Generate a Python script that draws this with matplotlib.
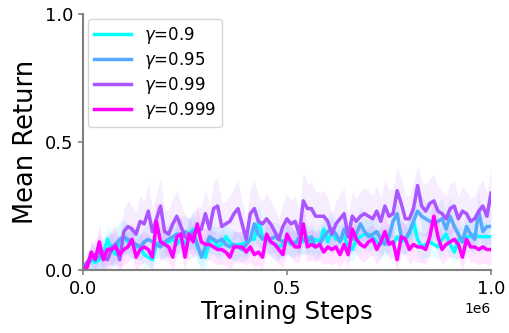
import matplotlib
matplotlib.use('Agg')
import matplotlib.pyplot as plt
import numpy as np

# data -----------------------------------------------------------------------------------------------------------------

steps = np.linspace(0, 1e6, 101)

gammaLabels = [r'$\gamma$=0.9', r'$\gamma$=0.95', r'$\gamma$=0.99', r'$\gamma$=0.999']

meanGamma09 = [0.01, 0.02, 0.04, 0.03, 0.04, 0.06, 0.12, 0.08, 0.06, 0.12,
               0.13, 0.11, 0.10, 0.09, 0.09, 0.06, 0.05, 0.04, 0.10, 0.11,
               0.10, 0.11, 0.12, 0.10, 0.12, 0.10, 0.14, 0.16, 0.09, 0.06,
               0.05, 0.11, 0.12, 0.09, 0.10, 0.13, 0.11, 0.09, 0.10, 0.10,
               0.11, 0.12, 0.12, 0.19, 0.13, 0.12, 0.11, 0.10, 0.09, 0.10,
               0.12, 0.10, 0.11, 0.12, 0.11, 0.13, 0.10, 0.12, 0.11, 0.16,
               0.11, 0.15, 0.12, 0.12, 0.13, 0.09, 0.08, 0.12, 0.13, 0.14,
               0.14, 0.13, 0.11, 0.10, 0.12, 0.11, 0.10, 0.13, 0.11, 0.12,
               0.14, 0.19, 0.12, 0.09, 0.10, 0.11, 0.10, 0.09, 0.12, 0.14,
               0.10, 0.07, 0.12, 0.11, 0.13, 0.13, 0.14, 0.13, 0.13, 0.13,
               0.13]

meanGamma095 = [0.01, 0.02, 0.04, 0.05, 0.05, 0.07, 0.08, 0.09, 0.10, 0.12,
                0.13, 0.12, 0.11, 0.10, 0.09, 0.11, 0.12, 0.11, 0.10, 0.09,
                0.11, 0.12, 0.13, 0.14, 0.14, 0.15, 0.14, 0.15, 0.10, 0.05,
                0.09, 0.13, 0.12, 0.11, 0.12, 0.10, 0.09, 0.10, 0.09, 0.08,
                0.10, 0.12, 0.18, 0.14, 0.12, 0.13, 0.12, 0.13, 0.12, 0.11,
                0.12, 0.11, 0.10, 0.13, 0.12, 0.11, 0.13, 0.09, 0.10, 0.13,
                0.15, 0.16, 0.14, 0.11, 0.16, 0.13, 0.12, 0.14, 0.18, 0.15,
                0.13, 0.14, 0.15, 0.12, 0.10, 0.13, 0.19, 0.22, 0.13, 0.12,
                0.15, 0.19, 0.23, 0.21, 0.20, 0.19, 0.18, 0.19, 0.20, 0.16,
                0.21, 0.17, 0.14, 0.11, 0.17, 0.14, 0.12, 0.23, 0.15, 0.17,
                0.17]

meanGamma099 = [0.01, 0.03, 0.05, 0.06, 0.07, 0.05, 0.04, 0.08, 0.10, 0.04,
                0.15, 0.17, 0.16, 0.14, 0.19, 0.18, 0.23, 0.15, 0.20, 0.25,
                0.15, 0.14, 0.18, 0.21, 0.17, 0.13, 0.12, 0.14, 0.15, 0.16,
                0.22, 0.16, 0.24, 0.25, 0.17, 0.18, 0.19, 0.22, 0.24, 0.18,
                0.12, 0.22, 0.24, 0.19, 0.18, 0.20, 0.18, 0.15, 0.12, 0.17,
                0.20, 0.18, 0.19, 0.14, 0.27, 0.24, 0.24, 0.21, 0.21, 0.21,
                0.19, 0.14, 0.18, 0.20, 0.22, 0.13, 0.21, 0.19, 0.21, 0.22,
                0.21, 0.20, 0.23, 0.19, 0.25, 0.21, 0.22, 0.31, 0.26, 0.20,
                0.20, 0.24, 0.33, 0.25, 0.23, 0.26, 0.27, 0.23, 0.22, 0.20,
                0.24, 0.25, 0.20, 0.23, 0.22, 0.19, 0.20, 0.23, 0.25, 0.21,
                0.30]

meanGamma0999 = [0.01, 0.01, 0.07, 0.04, 0.11, 0.04, 0.08, 0.08, 0.09, 0.06,
                 0.08, 0.09, 0.12, 0.05, 0.08, 0.09, 0.08, 0.05, 0.19, 0.11,
                 0.10, 0.09, 0.05, 0.13, 0.14, 0.05, 0.14, 0.11, 0.18, 0.11,
                 0.10, 0.10, 0.09, 0.08, 0.08, 0.07, 0.05, 0.09, 0.09, 0.09,
                 0.07, 0.09, 0.06, 0.07, 0.05, 0.14, 0.11, 0.10, 0.08, 0.06,
                 0.14, 0.11, 0.09, 0.09, 0.18, 0.09, 0.10, 0.09, 0.10, 0.07,
                 0.09, 0.08, 0.09, 0.06, 0.10, 0.06, 0.16, 0.12, 0.10, 0.09,
                 0.11, 0.12, 0.08, 0.11, 0.15, 0.10, 0.11, 0.04, 0.13, 0.12,
                 0.08, 0.10, 0.09, 0.09, 0.08, 0.13, 0.21, 0.13, 0.08, 0.10,
                 0.11, 0.12, 0.10, 0.05, 0.12, 0.09, 0.09, 0.08, 0.09, 0.08,
                 0.08]

# spread of each run
stdGamma09 = [0.01, 0.02, 0.04, 0.04, 0.05, 0.05, 0.06, 0.06, 0.05, 0.06,
              0.06, 0.05, 0.06, 0.05, 0.05, 0.05, 0.04, 0.04, 0.05, 0.06,
              0.05, 0.06, 0.05, 0.06, 0.05, 0.05, 0.06, 0.07, 0.06, 0.05,
              0.05, 0.06, 0.05, 0.05, 0.06, 0.05, 0.05, 0.06, 0.05, 0.05,
              0.06, 0.05, 0.06, 0.07, 0.06, 0.05, 0.05, 0.06, 0.05, 0.05,
              0.06, 0.05, 0.05, 0.06, 0.05, 0.06, 0.05, 0.05, 0.06, 0.07,
              0.05, 0.06, 0.05, 0.06, 0.05, 0.05, 0.05, 0.06, 0.06, 0.05,
              0.06, 0.05, 0.05, 0.06, 0.05, 0.05, 0.06, 0.06, 0.05, 0.05,
              0.06, 0.07, 0.06, 0.05, 0.05, 0.06, 0.05, 0.05, 0.06, 0.06,
              0.05, 0.05, 0.06, 0.05, 0.06, 0.06, 0.05, 0.06, 0.06, 0.05,
              0.05]

stdGamma095 = [0.01, 0.02, 0.04, 0.05, 0.05, 0.06, 0.06, 0.07, 0.06, 0.07,
               0.07, 0.06, 0.06, 0.06, 0.05, 0.06, 0.06, 0.06, 0.05, 0.05,
               0.06, 0.06, 0.07, 0.07, 0.06, 0.07, 0.06, 0.07, 0.06, 0.05,
               0.05, 0.06, 0.06, 0.06, 0.06, 0.05, 0.05, 0.06, 0.05, 0.05,
               0.06, 0.06, 0.07, 0.06, 0.06, 0.06, 0.06, 0.06, 0.06, 0.05,
               0.06, 0.06, 0.05, 0.06, 0.06, 0.05, 0.06, 0.05, 0.05, 0.06,
               0.07, 0.07, 0.06, 0.06, 0.07, 0.06, 0.06, 0.06, 0.07, 0.07,
               0.06, 0.06, 0.07, 0.06, 0.05, 0.06, 0.07, 0.08, 0.06, 0.06,
               0.07, 0.07, 0.08, 0.08, 0.07, 0.07, 0.07, 0.07, 0.08, 0.07,
               0.08, 0.07, 0.06, 0.06, 0.07, 0.06, 0.06, 0.08, 0.07, 0.07,
               0.07]

stdGamma099 = [0.01, 0.03, 0.05, 0.06, 0.07, 0.06, 0.06, 0.07, 0.08, 0.06,
               0.09, 0.10, 0.09, 0.09, 0.10, 0.09, 0.11, 0.09, 0.10, 0.11,
               0.09, 0.09, 0.10, 0.10, 0.09, 0.08, 0.08, 0.09, 0.09, 0.09,
               0.10, 0.09, 0.10, 0.11, 0.09, 0.09, 0.10, 0.10, 0.11, 0.09,
               0.08, 0.10, 0.11, 0.10, 0.09, 0.10, 0.09, 0.09, 0.08, 0.09,
               0.10, 0.09, 0.10, 0.09, 0.11, 0.10, 0.10, 0.10, 0.09, 0.10,
               0.09, 0.08, 0.09, 0.10, 0.10, 0.08, 0.10, 0.09, 0.10, 0.10,
               0.10, 0.09, 0.10, 0.09, 0.11, 0.10, 0.10, 0.09, 0.10, 0.09,
               0.09, 0.10, 0.08, 0.10, 0.10, 0.10, 0.10, 0.10, 0.09, 0.09,
               0.10, 0.10, 0.09, 0.10, 0.09, 0.09, 0.09, 0.10, 0.10, 0.09,
               0.10]

stdGamma0999 = [0.01, 0.01, 0.05, 0.04, 0.07, 0.05, 0.06, 0.06, 0.06, 0.05,
                0.06, 0.06, 0.07, 0.05, 0.06, 0.06, 0.06, 0.05, 0.08, 0.07,
                0.06, 0.06, 0.05, 0.07, 0.07, 0.05, 0.07, 0.06, 0.08, 0.06,
                0.06, 0.06, 0.06, 0.06, 0.06, 0.05, 0.05, 0.06, 0.06, 0.06,
                0.05, 0.06, 0.05, 0.05, 0.05, 0.07, 0.06, 0.06, 0.06, 0.05,
                0.07, 0.06, 0.06, 0.06, 0.08, 0.06, 0.06, 0.06, 0.06, 0.05,
                0.06, 0.06, 0.06, 0.05, 0.06, 0.05, 0.07, 0.06, 0.06, 0.06,
                0.06, 0.06, 0.06, 0.06, 0.07, 0.06, 0.06, 0.04, 0.07, 0.06,
                0.06, 0.06, 0.06, 0.06, 0.06, 0.07, 0.08, 0.07, 0.06, 0.06,
                0.06, 0.07, 0.06, 0.05, 0.06, 0.06, 0.06, 0.06, 0.06, 0.06,
                0.06]

means = [meanGamma09, meanGamma095, meanGamma099, meanGamma0999]
stds = [stdGamma09, stdGamma095, stdGamma099, stdGamma0999]

# figure ---------------------------------------------------------------------------------------------------------------

figureWidth = 5.09
figureHeight = 3.33
fig = plt.figure(figsize=(figureWidth, figureHeight), dpi=100)

panel1 = plt.axes([83 / 509, 63 / 333, 408 / 509, 256 / 333])  # left, bottom, width, height

colors = plt.cm.cool(np.linspace(0, 1, 4))

for mean, std, color, label in zip(means, stds, colors, gammaLabels):
    mean = np.array(mean)
    std = np.array(std)
    panel1.fill_between(steps, mean - std, mean + std, color=color, alpha=0.1, linewidth=0)
    panel1.plot(steps, mean, color=color, linewidth=2.5, label=label)

panel1.set_xlim(0, 1e6)
panel1.set_ylim(0, 1.0)
panel1.set_xticks([0, 0.5e6, 1e6])
panel1.set_yticks([0, 0.5, 1.0])
panel1.ticklabel_format(axis='x', style='sci', scilimits=(0, 0))
panel1.xaxis.get_offset_text().set_fontsize(10)

panel1.spines['top'].set_visible(False)
panel1.spines['right'].set_visible(False)
for side in ['left', 'bottom']:
    panel1.spines[side].set_color('grey')
    panel1.spines[side].set_linewidth(1.5)
panel1.tick_params(axis='both', colors='grey', labelcolor='black', labelsize=13, width=1.2)

panel1.set_xlabel('Training Steps', fontsize=17.5, labelpad=2)
panel1.set_ylabel('Mean Return', fontsize=18.5, labelpad=4)

panel1.legend(loc='upper left', fontsize=12, handlelength=2.2, labelspacing=0.25,
              borderpad=0.35, handletextpad=0.8, borderaxespad=0.3)

# ----------------------------------------------------------------------------------------------------------------------

plt.savefig('out.png', dpi=100)
